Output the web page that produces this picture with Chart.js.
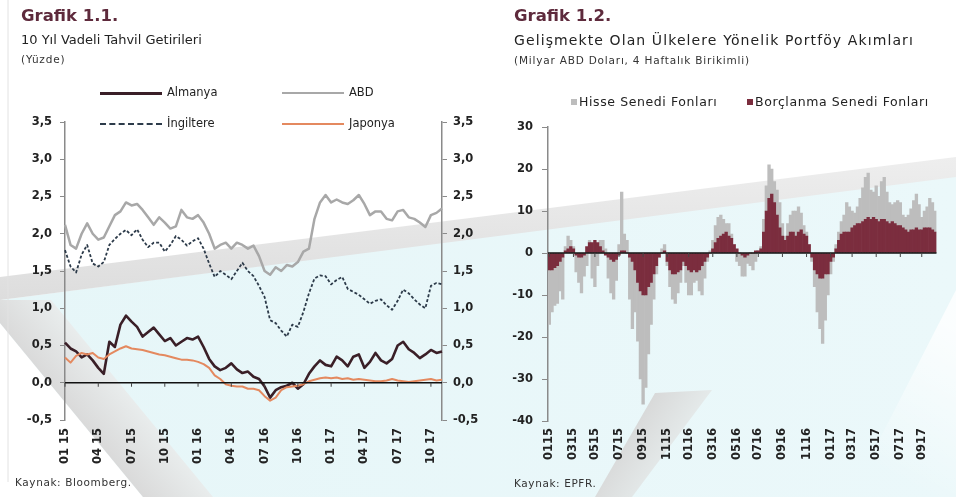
<!DOCTYPE html>
<html lang="tr">
<head>
<meta charset="utf-8">
<script src="https://cdn.jsdelivr.net/npm/chart.js@4.4.0/dist/chart.umd.min.js"></script>
<style>
  body { margin:0; width:956px; height:497px; overflow:hidden; background:#fff; position:relative;
         font-family:"DejaVu Sans", sans-serif; color:#222; }
  #bg { position:absolute; left:0; top:0; }
  canvas { position:absolute; top:0; }
  #left { left:0; }
  #right { left:480px; }
  .t { position:absolute; white-space:nowrap; line-height:1; }
  .h { font-weight:bold; font-size:16.5px; color:#5e2a3c; }
  .s { font-size:13px; color:#222; }
  .s2 { font-size:14px; letter-spacing:1.1px; color:#222; }
  .u { font-size:10.5px; letter-spacing:0.8px; color:#333; }
  .src { font-size:10.5px; letter-spacing:0.6px; color:#333; }
  .lg { font-size:11.5px; color:#222; }
  .lg2 { font-size:12.5px; letter-spacing:0.6px; color:#222; }
  .ln { position:absolute; }
  .sq { position:absolute; width:6px; height:6px; }
</style>
</head>
<body>
<svg id="bg" width="956" height="497">
  <defs>
    <linearGradient id="cyan" x1="0" y1="0" x2="1" y2="0">
      <stop offset="0" stop-color="#e6f6f8"/>
      <stop offset="1" stop-color="#ebf8fa"/>
    </linearGradient>
    <linearGradient id="band" x1="0" y1="0" x2="0" y2="1">
      <stop offset="0" stop-color="#eeeeee"/>
      <stop offset="1" stop-color="#dddddd"/>
    </linearGradient>
    <linearGradient id="diag" gradientUnits="userSpaceOnUse" x1="60" y1="400" x2="118" y2="352">
      <stop offset="0" stop-color="#d9d9d9"/>
      <stop offset="1" stop-color="#eef3f3"/>
    </linearGradient>
    <linearGradient id="wedge" gradientUnits="userSpaceOnUse" x1="620" y1="430" x2="680" y2="470">
      <stop offset="0" stop-color="#d6d6d6"/>
      <stop offset="1" stop-color="#e9f0f0"/>
    </linearGradient>
    <linearGradient id="fade" gradientUnits="userSpaceOnUse" x1="880" y1="470" x2="956" y2="330">
      <stop offset="0" stop-color="#ffffff" stop-opacity="0"/>
      <stop offset="1" stop-color="#ffffff" stop-opacity="0.8"/>
    </linearGradient>
  </defs>
  <polygon points="0,300 956,175 956,497 0,497" fill="url(#cyan)"/>
  <polygon points="0,277 956,157 956,177 0,300" fill="url(#band)"/>
  <polygon points="0,323 143,497 0,497" fill="#ffffff"/>
  <polygon points="0,300 51,300 213,497 143,497 0,323" fill="url(#diag)"/>
  <polygon points="655,393 712,390 632,497 595,497" fill="url(#wedge)"/>
  <polygon points="956,290 956,497 850,497" fill="url(#fade)"/>
  <line x1="8" y1="0" x2="8" y2="482" stroke="#e2e2e2" stroke-width="1"/>
</svg>

<canvas id="left" width="480" height="497"></canvas>
<canvas id="right" width="476" height="497"></canvas>

<!-- left panel headings -->
<div class="t h" style="left:21px;top:8px;">Grafik 1.1.</div>
<div class="t s" style="left:21px;top:33px;">10 Yıl Vadeli Tahvil Getirileri</div>
<div class="t u" style="left:21px;top:54px;">(Yüzde)</div>

<!-- left legend -->
<div class="ln" style="left:100px;top:92px;width:62px;height:3px;background:#3a1f27;"></div>
<div class="t lg" style="left:167px;top:87px;">Almanya</div>
<div class="ln" style="left:282px;top:92px;width:62px;height:2px;background:#a8a8a8;"></div>
<div class="t lg" style="left:349px;top:87px;">ABD</div>
<div class="ln" style="left:100px;top:123px;width:62px;height:0;border-top:2px dashed #2d3b4a;"></div>
<div class="t lg" style="left:167px;top:118px;">İngiltere</div>
<div class="ln" style="left:282px;top:123px;width:62px;height:2px;background:#e4895f;"></div>
<div class="t lg" style="left:349px;top:118px;">Japonya</div>

<div class="t src" style="left:15px;top:477px;">Kaynak: Bloomberg.</div>

<!-- right panel headings -->
<div class="t h" style="left:514px;top:8px;">Grafik 1.2.</div>
<div class="t s2" style="left:514px;top:33px;">Gelişmekte Olan Ülkelere Yönelik Portföy Akımları</div>
<div class="t u" style="left:514px;top:55px;">(Milyar ABD Doları, 4 Haftalık Birikimli)</div>

<!-- right legend -->
<div class="sq" style="left:571px;top:99px;background:#bdbdbd;"></div>
<div class="t lg2" style="left:579px;top:96px;">Hisse Senedi Fonları</div>
<div class="sq" style="left:747px;top:99px;background:#7b2d3e;"></div>
<div class="t lg2" style="left:755px;top:96px;">Borçlanma Senedi Fonları</div>

<div class="t src" style="left:514px;top:478px;">Kaynak: EPFR.</div>

<script>
// ---- 10-year government bond yields, semi-monthly readings (%) from Jan 2015 ----
const almanya = [0.54,0.46,0.42,0.34,0.38,0.30,0.20,0.12,0.55,0.48,
                 0.78,0.90,0.82,0.75,0.62,0.68,0.74,0.65,0.56,0.60,
                 0.50,0.55,0.60,0.58,0.62,0.48,0.32,0.22,0.17,0.20,
                 0.26,0.18,0.13,0.15,0.08,0.05,-0.05,-0.20,-0.10,-0.06,
                 -0.04,0.00,-0.08,-0.02,0.12,0.22,0.30,0.24,0.22,0.35,
                 0.30,0.22,0.35,0.38,0.20,0.28,0.40,0.30,0.26,0.32,
                 0.50,0.55,0.45,0.40,0.33,0.38,0.44,0.40,0.42];
const abd = [2.12,1.85,1.80,2.00,2.14,2.00,1.92,1.95,2.10,2.25,
             2.30,2.42,2.38,2.40,2.32,2.22,2.12,2.22,2.15,2.07,
             2.10,2.32,2.22,2.20,2.25,2.15,2.00,1.80,1.85,1.88,
             1.80,1.88,1.85,1.80,1.84,1.70,1.50,1.45,1.55,1.50,
             1.58,1.56,1.62,1.76,1.80,2.20,2.42,2.52,2.42,2.46,
             2.42,2.40,2.45,2.52,2.40,2.25,2.30,2.30,2.20,2.18,
             2.30,2.32,2.22,2.20,2.15,2.09,2.25,2.28,2.34];
const ingiltere = [1.78,1.56,1.48,1.72,1.85,1.60,1.56,1.62,1.85,1.93,
                   2.00,2.05,1.98,2.06,1.92,1.82,1.88,1.88,1.76,1.85,
                   1.97,1.92,1.84,1.90,1.94,1.80,1.60,1.42,1.50,1.45,
                   1.39,1.50,1.61,1.50,1.43,1.30,1.15,0.84,0.80,0.70,
                   0.62,0.78,0.75,0.95,1.20,1.40,1.44,1.43,1.32,1.38,
                   1.42,1.26,1.22,1.18,1.12,1.06,1.10,1.12,1.04,0.98,
                   1.10,1.25,1.20,1.12,1.05,1.00,1.30,1.34,1.32];
const japonya = [0.34,0.27,0.36,0.40,0.38,0.40,0.34,0.32,0.38,0.42,
                 0.46,0.49,0.46,0.45,0.44,0.42,0.40,0.38,0.37,0.35,
                 0.33,0.31,0.31,0.30,0.28,0.25,0.20,0.10,0.05,-0.02,
                 -0.04,-0.05,-0.05,-0.08,-0.08,-0.10,-0.18,-0.24,-0.20,-0.10,
                 -0.06,-0.05,-0.04,-0.02,0.02,0.04,0.06,0.07,0.06,0.07,
                 0.05,0.06,0.04,0.05,0.04,0.03,0.02,0.02,0.03,0.05,
                 0.03,0.02,0.01,0.02,0.03,0.04,0.05,0.03,0.04];
const leftTickLabels = ['01 15','04 15','07 15','10 15','01 16','04 16','07 16','10 16','01 17','04 17','07 17','10 17'];

// ---- EM portfolio flows, weekly, 4-week cumulative (USD bn) from 2 Jan 2015 ----
const borclanma = [-4,-4,-3.5,-3,-2,-1,0.5,1,1.5,1,
                   -0.5,-1,-1,-0.5,1.5,2.5,2.5,3,2.5,1.5,
                   0.5,-0.5,-1,-1.5,-2,-1.5,-0.5,0.5,0.5,0,
                   -1,-2,-4,-7,-9,-10,-10,-8,-7,-5,
                   -3,-1,0,0.5,-2,-4,-5,-5,-4.5,-4,
                   -2,-3,-4,-4.5,-4,-4.5,-4,-3,-2,-1,
                   0,1,2.5,3.5,4,4.5,5,4,3.5,2,
                   1,0,-0.5,-1,-0.5,0,0,0.5,0.5,1,
                   5,10,13,14,12,9,6,4,3,4,
                   5,5,4,5,5.5,4.5,4,2,-1,-4,
                   -5,-6,-6,-5,-5,-2,-1,1,3,4.5,
                   5,5,5,6,6.5,7,7,7.5,8,8.5,
                   8,8.5,8,7.5,8,8,7.5,7,7.5,7,
                   6.5,6.5,6,5.5,5,5.5,5.5,6,5.5,5.5,
                   6,6,6,5.5,5];
const hisse = [-13,-10,-9,-9,-7,-10,1,3,1.5,0.5,
               -4,-6,-8.5,-5,-3,0.5,-6,-8,-3,1.5,
               2.5,1,-5,-8,-9,-5,2,14,4,3,
               -10,-16,-10,-14,-21,-26,-22,-16,-10,-6,
               -2,0,1,1.5,-1,-4,-6,-7,-5,-3,
               -1,-4,-6,-5.5,-3,-2,-5,-7,-4,-1,
               0.5,2,4,5,5,3.5,2,3,1,0,
               -2,-3,-5,-4.5,-2,-3,-4,-2,0,0.5,
               3,6,8,6,5,6,6,3,1,3,
               4,5,6,6,4,2,1,0,-1,-4,
               -9,-12,-15.5,-11,-5,-3,-1,1,2,3,
               4,7,6,4,3,4,6,8,10,10.5,
               7,6,8,6,9,10,7,5,4,5,
               6,5.5,3,3,4,5,7,8,6,3,
               4,5,7,6.5,5];
const rightTickLabels = ['0115','0315','0515','0715','0915','1115','0116','0316','0516','0716','0916','1116','0117','0317','0517','0717','0917'];

// ---- categories ----
const halfMonths = almanya.map((_, k) => {
  const m = Math.floor(k / 2);
  return String(m % 12 + 1).padStart(2, '0') + ' ' + (15 + Math.floor(m / 12));
});
const weekStart = Date.UTC(2015, 0, 2);
const weeks = hisse.map((_, k) => {
  const d = new Date(weekStart + k * 7 * 864e5);
  return String(d.getUTCMonth() + 1).padStart(2, '0') + String(d.getUTCFullYear() % 100);
});

const tickFont = { family: '"DejaVu Sans", sans-serif', size: 11.5, weight: 'bold' };
const comma = v => Number(v).toFixed(1).replace('.', ',');

// black zero line drawn over the marks, with small ticks below it at each labelled date
const zeroLine = {
  id: 'zeroLine',
  afterDatasetsDraw(chart) {
    const { ctx, chartArea: a } = chart;
    const xs = chart.scales.x, ys = chart.scales.y;
    const y0 = ys.getPixelForValue(0);
    ctx.save();
    ctx.strokeStyle = '#111';
    ctx.lineWidth = 1.6;
    ctx.beginPath(); ctx.moveTo(a.left, y0); ctx.lineTo(a.right, y0); ctx.stroke();
    ctx.lineWidth = 1;
    ctx.strokeStyle = '#444';
    xs.ticks.forEach((t, i) => {
      if (!t.label) return;
      const px = xs.getPixelForTick(i);
      ctx.beginPath(); ctx.moveTo(px, y0); ctx.lineTo(px, y0 + 4); ctx.stroke();
    });
    ctx.restore();
  }
};

const yAxisBase = (pos, width, pad) => ({
  position: pos,
  min: -0.5, max: 3.5,
  afterFit: s => { s.width = width; },
  border: { display: true, color: '#8a8a8a', width: 1.5 },
  grid: { drawOnChartArea: false, color: '#8a8a8a', tickLength: 5 },
  ticks: { stepSize: 0.5, color: '#222', font: tickFont, padding: pad, callback: comma }
});

new Chart(document.getElementById('left'), {
  type: 'line',
  data: {
    labels: halfMonths,
    datasets: [
      { label: 'Japonya', data: japonya, borderColor: '#e4895f', borderWidth: 2 },
      { label: 'ABD', data: abd, borderColor: '#a8a8a8', borderWidth: 2.5 },
      { label: 'İngiltere', data: ingiltere, borderColor: '#2d3b4a', borderWidth: 1.8, borderDash: [3, 2] },
      { label: 'Almanya', data: almanya, borderColor: '#3a1f27', borderWidth: 2.6 }
    ]
  },
  options: {
    responsive: false, animation: false,
    layout: { padding: { top: 122, left: 0, right: 0, bottom: 0 } },
    elements: { point: { radius: 0 }, line: { tension: 0, borderJoinStyle: 'round' } },
    plugins: { legend: { display: false }, tooltip: { enabled: false } },
    scales: {
      x: {
        afterFit: s => { s.height = 77; },
        offset: false,
        border: { display: false },
        grid: { display: false, drawTicks: false },
        ticks: {
          autoSkip: false, maxRotation: 90, minRotation: 90, padding: 8,
          color: '#222', font: tickFont,
          callback: (v, i) => (i % 2 === 0 && leftTickLabels.includes(halfMonths[i])) ? halfMonths[i] : ''
        }
      },
      y: yAxisBase('left', 65, 8),
      y2: yAxisBase('right', 38, 6)
    }
  },
  plugins: [zeroLine]
});

new Chart(document.getElementById('right'), {
  type: 'bar',
  data: {
    labels: weeks,
    datasets: [
      { label: 'Borçlanma Senedi Fonları', data: borclanma, backgroundColor: '#7b2d3e' },
      { label: 'Hisse Senedi Fonları', data: hisse, backgroundColor: '#bdbdbd' }
    ]
  },
  options: {
    responsive: false, animation: false,
    layout: { padding: { top: 127, left: 0, right: 14, bottom: 0 } },
    datasets: { bar: { barPercentage: 1, categoryPercentage: 1, borderWidth: 0 } },
    plugins: { legend: { display: false }, tooltip: { enabled: false } },
    scales: {
      x: {
        stacked: true,
        afterFit: s => { s.height = 76; },
        border: { display: false },
        grid: { display: false, drawTicks: false },
        ticks: {
          autoSkip: false, maxRotation: 90, minRotation: 90, padding: 7,
          color: '#222', font: tickFont,
          callback: (v, i) => ((i === 0 || weeks[i] !== weeks[i - 1]) && rightTickLabels.includes(weeks[i])) ? weeks[i] : ''
        }
      },
      y: {
        stacked: true,
        min: -40, max: 30,
        afterFit: s => { s.width = 68; },
        border: { display: true, color: '#8a8a8a', width: 1.5 },
        grid: { drawOnChartArea: false, color: '#8a8a8a', tickLength: 6 },
        ticks: { stepSize: 10, color: '#222', font: tickFont, padding: 9 }
      }
    }
  },
  plugins: [zeroLine]
});
</script>
</body>
</html>
